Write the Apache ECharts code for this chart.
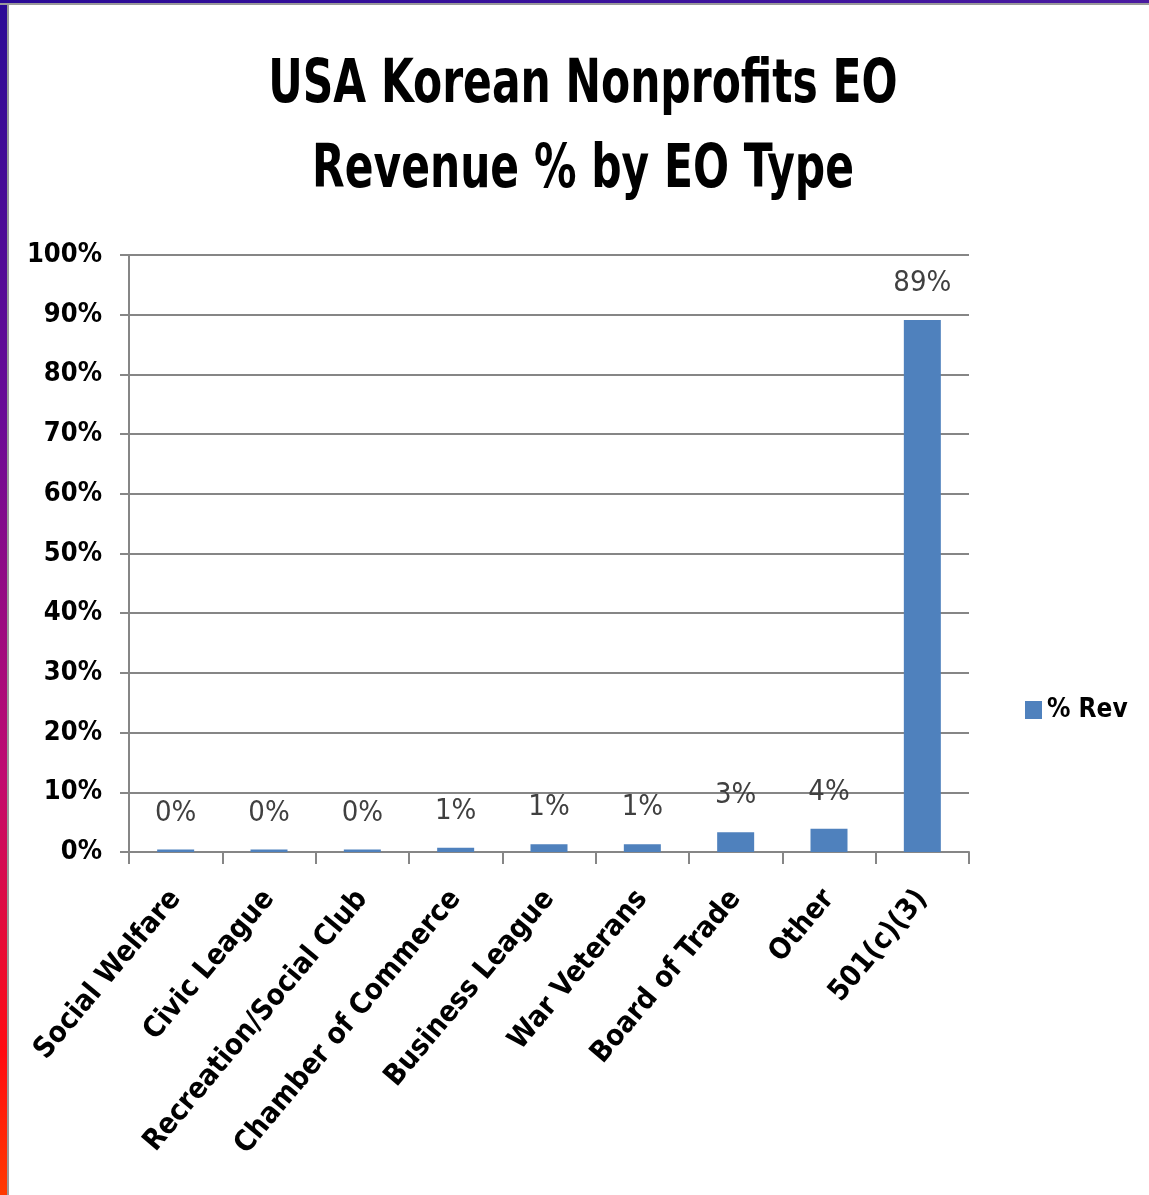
<!DOCTYPE html>
<html>
<head>
<meta charset="utf-8">
<script src="https://cdn.jsdelivr.net/npm/echarts@6/dist/echarts.min.js"></script>
<style>
  html, body { margin: 0; padding: 0; background: #fff; }
  #frameLeft { position: absolute; left: 0; top: 0; width: 7px; height: 1195px;
    background: linear-gradient(to bottom, #2a0a96 0%, #6a0a96 35%, #c00a70 65%, #ff0a10 88%, #ff3a00 100%);
    border-right: 2px solid #9a9a9a; }
  #frameTop { position: absolute; left: 0; top: 0; width: 1149px; height: 3px;
    background: linear-gradient(to right, #2a0a96, #4a1aa0);
    border-bottom: 2px solid #9a9a9a; }
  #container { position: absolute; left: 0; top: 0; width: 1149px; height: 1195px; }
</style>
</head>
<body>
<div id="frameLeft"></div>
<div id="frameTop"></div>
<div id="container"></div>
<script>
  // EO types along the x axis
  var categories = ['Social Welfare', 'Civic League', 'Recreation/Social Club', 'Chamber of Commerce',
                    'Business League', 'War Veterans', 'Board of Trade', 'Other', '501(c)(3)'];
  // % of revenue (bar heights)
  var revValues = [0.4, 0.4, 0.4, 0.7, 1.3, 1.3, 3.3, 3.9, 89.1];
  // labels shown above the bars
  var revLabels = ['0%', '0%', '0%', '1%', '1%', '1%', '3%', '4%', '89%'];
  var seriesName = '% Rev';
  var titleText = 'USA Korean Nonprofits EO\nRevenue % by EO Type';

  var narrow = '"DejaVu Sans Condensed", "DejaVu Sans", sans-serif';

  var myChart = echarts.init(document.getElementById('container'), null, { renderer: 'canvas' });
  var option = {
    backgroundColor: 'transparent',
    animation: false,
    // title drawn as graphic text so it can be squeezed like the original
    graphic: [{
      type: 'text',
      x: 583,
      y: 44,
      scaleX: 0.786,
      style: {
        text: titleText,
        textAlign: 'center',
        fontFamily: narrow,
        fontWeight: 'bold',
        fontSize: 60,
        lineHeight: 85,
        fill: '#000'
      }
    }],
    legend: {
      data: [{ name: seriesName, icon: 'rect' }],
      left: 1020,
      top: 692,
      itemWidth: 17,
      itemHeight: 18,
      itemGap: 8,
      textStyle: { fontFamily: narrow, fontWeight: 'bold', fontSize: 26, color: '#000' }
    },
    grid: { left: 129, right: 180, top: 255, bottom: 343, containLabel: false },
    xAxis: {
      type: 'category',
      data: categories,
      axisLine: { show: true, lineStyle: { color: '#868686', width: 2 } },
      axisTick: { show: true, length: 12, alignWithLabel: false, lineStyle: { color: '#868686', width: 2 } },
      axisLabel: {
        interval: 0,
        rotate: 50,
        margin: 42,
        fontFamily: narrow,
        fontWeight: 'bold',
        fontSize: 29,
        color: '#000'
      }
    },
    yAxis: {
      type: 'value',
      min: 0,
      max: 100,
      interval: 10,
      axisLine: { show: true, lineStyle: { color: '#868686', width: 2 } },
      axisTick: { show: true, length: 9, lineStyle: { color: '#868686', width: 2 } },
      axisLabel: {
        margin: 27,
        formatter: '{value}%',
        fontFamily: narrow,
        fontWeight: 'bold',
        fontSize: 27,
        color: '#000'
      },
      splitLine: { show: true, lineStyle: { color: '#868686', width: 2 } }
    },
    series: [{
      name: seriesName,
      type: 'bar',
      data: revValues,
      barWidth: 37,
      itemStyle: { color: '#4f81bd' },
      label: {
        show: true,
        position: 'top',
        distance: 22,
        fontFamily: narrow,
        fontSize: 29,
        color: '#404040',
        formatter: function (p) { return revLabels[p.dataIndex]; }
      }
    }]
  };
  myChart.setOption(option);
</script>
</body>
</html>
